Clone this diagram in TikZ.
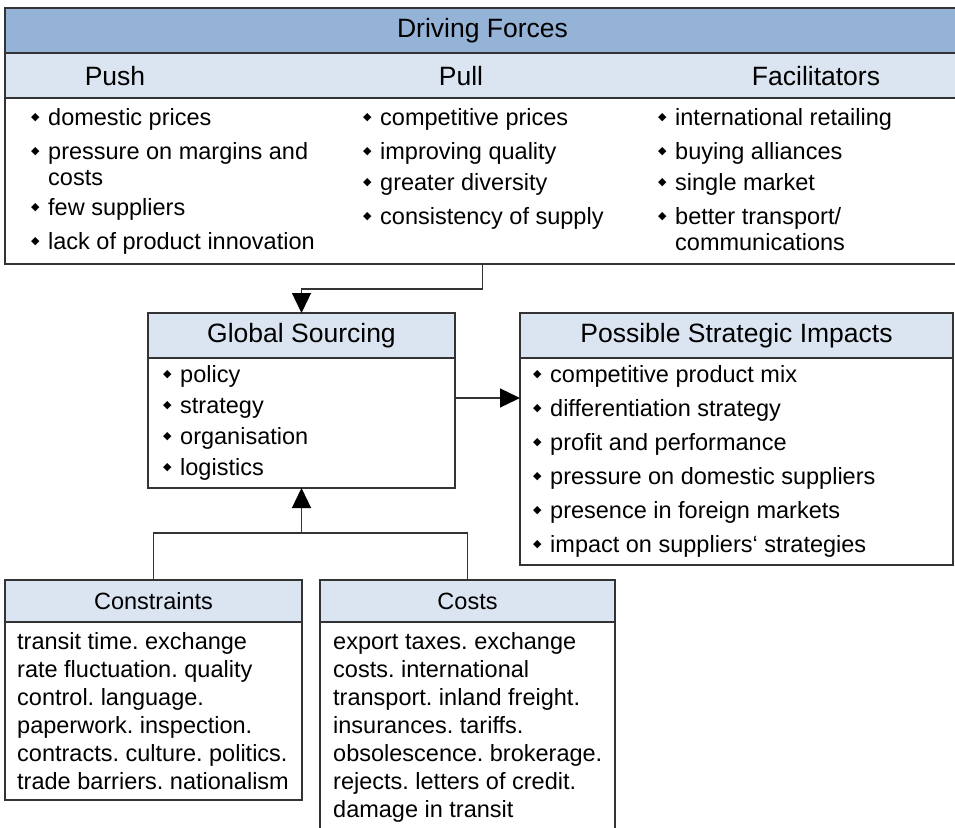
\documentclass[tikz,border=0pt]{standalone}
\usepackage{fontspec}
\setmainfont{Liberation Sans}
\newfontfamily\symfont{DejaVu Sans}
\usetikzlibrary{positioning,arrows.meta}
\frenchspacing
\definecolor{hdrblue}{HTML}{95B3D7}
\definecolor{subblue}{HTML}{DBE5F1}
\newcommand{\dia}{\makebox[17pt][l]{\raisebox{5pt}{\symfont\fontsize{11}{11}\selectfont ◆}}}
\newcommand{\bigfont}{\fontsize{26.5}{30}\selectfont}
\newcommand{\txtfont}{\fontsize{23.5}{26}\selectfont}
\newcommand{\parfont}{\fontsize{23.5}{28}\selectfont}
\tikzset{
  box/.style={draw=black!80, line width=1.3pt, anchor=north west, inner sep=0pt, outer sep=0pt},
  head/.style={box, fill=subblue, font=\bigfont},
  list/.style={anchor=north west, inner sep=0pt, align=left, font=\txtfont},
  link/.style={line width=1.3pt, draw=black!80},
  arr/.style={link, -{Triangle[length=20pt,width=19pt,color=black]}}
}
\begin{document}
\begin{tikzpicture}[x=1pt,y=1pt]
  \useasboundingbox (0,0) rectangle (955,-827);
  \clip (0,0) rectangle (955,-827);
  % Driving forces
  \node[box, fill=hdrblue, minimum width=955pt, minimum height=45pt, font=\bigfont] (drive) at (5,-8) {Driving Forces};
  \node[box, fill=subblue, minimum width=955pt, minimum height=45pt] (drivesub) at (drive.south west) {};
  \node[box, minimum width=955pt, minimum height=166pt] (drivebody) at (drivesub.south west) {};
  \node[font=\bigfont] (push) at (115,-76) {Push};
  \node[font=\bigfont] (pull) at (461,-76) {Pull};
  \node[font=\bigfont] (facil) at (816,-76) {Facilitators};
  \node[list] (pushlist) at (31,-108) {\dia domestic prices\\[8pt]
    \dia pressure on margins and\\ \hspace*{17pt}costs\\[4pt]
    \dia few suppliers\\[8pt]
    \dia lack of product innovation};
  \node[list] (pulllist) at (363,-108) {\dia competitive prices\\[8pt]
    \dia improving quality\\[5pt]
    \dia greater diversity\\[8pt]
    \dia consistency of supply};
  \node[list] (facillist) at (658,-108) {\dia international retailing\\[8pt]
    \dia buying alliances\\[5pt]
    \dia single market\\[8pt]
    \dia better transport/\\ \hspace*{17pt}communications};
  % Global sourcing
  \node[head, minimum width=307pt, minimum height=45pt] (gshead) at (148,-313) {Global Sourcing};
  \node[box, minimum width=307pt, minimum height=130pt] (gsbody) at (gshead.south west) {};
  \node[list] (gslist) at (163,-365) {\dia policy\\[5pt] \dia strategy\\[5pt]
    \dia organisation\\[5pt] \dia logistics};
  % Impacts
  \node[head, minimum width=433pt, minimum height=45pt] (imphead) at (520,-313) {Possible Strategic Impacts};
  \node[box, minimum width=433pt, minimum height=207pt] (impbody) at (imphead.south west) {};
  \node[list] (implist) at (533,-365) {\dia competitive product mix\\[8pt]
    \dia differentiation strategy\\[8pt]
    \dia profit and performance\\[8pt]
    \dia pressure on domestic suppliers\\[8pt]
    \dia presence in foreign markets\\[8pt]
    \dia impact on suppliers‘ strategies};
  % Constraints
  \node[head, font=\txtfont, minimum width=297pt, minimum height=42pt] (conhead) at (5,-580) {Constraints};
  \node[box, minimum width=297pt, minimum height=178pt] (conbody) at (conhead.south west) {};
  \node[list, font=\parfont] (context) at (17,-632) {transit time. exchange\\
    rate fluctuation. quality\\ control. language.\\ paperwork. inspection.\\
    contracts. culture. politics.\\ trade barriers. nationalism};
  % Costs
  \node[head, font=\txtfont, minimum width=295pt, minimum height=42pt] (costhead) at (320,-580) {Costs};
  \node[box, minimum width=295pt, minimum height=270pt] (costbody) at (costhead.south west) {};
  \node[list, font=\parfont] (costtext) at (333,-632) {export taxes. exchange\\
    costs. international\\ transport. inland freight.\\ insurances. tariffs.\\
    obsolescence. brokerage.\\ rejects. letters of credit.\\ damage in transit};
  % connectors
  \draw[arr] (drivebody.south) -- ++(0,-25) -| (gshead.north);
  \draw[arr] ([yshift=25pt]gsbody.east) -- ([yshift=25pt]gsbody.east -| impbody.west);
  \coordinate[below=45pt of gsbody.south] (merge);
  \draw[link] (conhead.north) |- (merge) -| (costhead.north);
  \draw[arr] (merge) -- (gsbody.south);
\end{tikzpicture}
\end{document}
